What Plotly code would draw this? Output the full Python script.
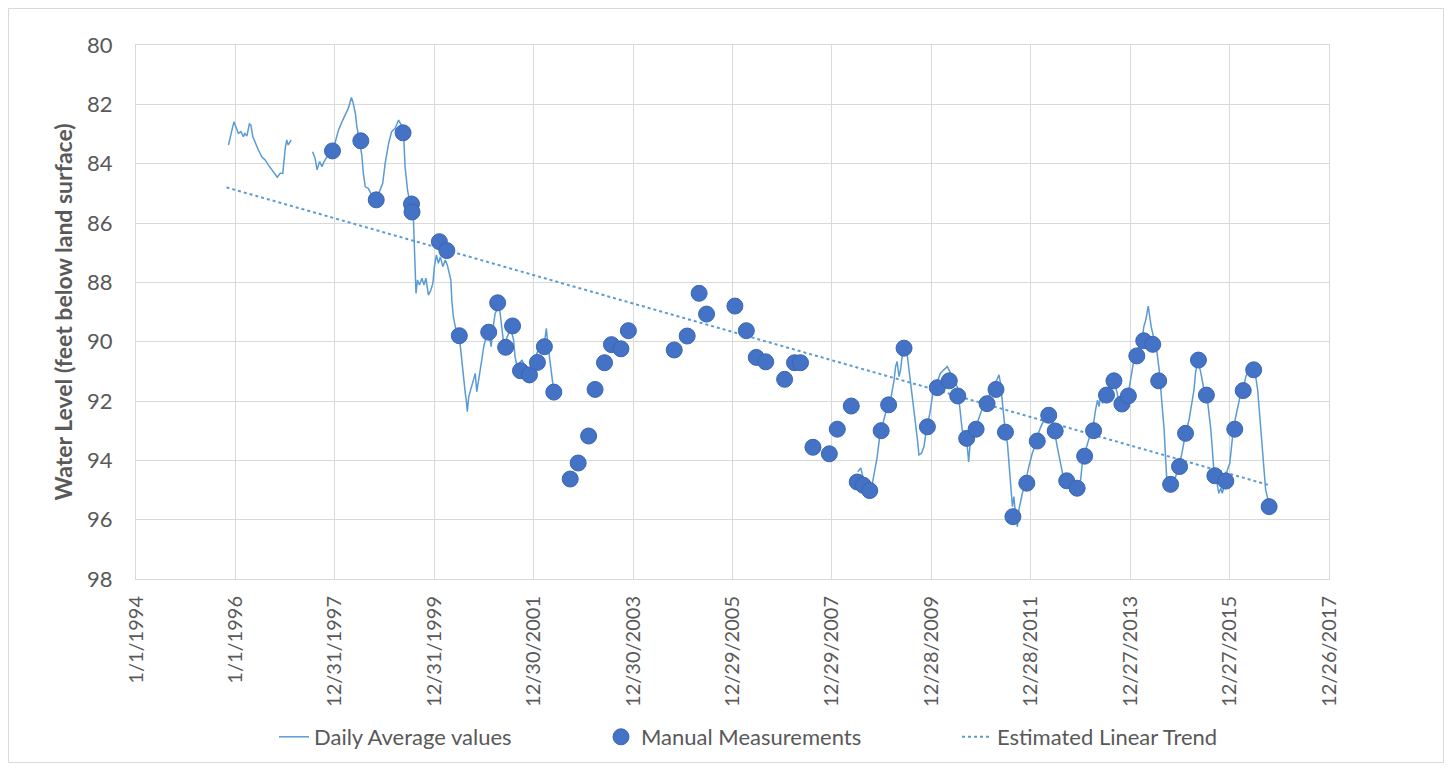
import plotly.graph_objects as go
from datetime import datetime, timedelta

# ---------------- data (decimal years, feet below land surface) ----------------
daily_a_year = [1995.86, 1995.88, 1995.93, 1995.97, 1996.01, 1996.06, 1996.11, 1996.16, 1996.19,
                1996.23, 1996.28, 1996.31, 1996.35, 1996.39, 1996.46, 1996.53, 1996.60, 1996.66,
                1996.73, 1996.80, 1996.84, 1996.90, 1996.95, 1997.00, 1997.03, 1997.06, 1997.12]
daily_a_val = [83.37, 83.20, 82.87, 82.59, 82.75, 82.98, 82.92, 83.09, 82.98,
               83.07, 82.66, 82.70, 83.09, 83.26, 83.54, 83.77, 83.88, 84.04,
               84.21, 84.38, 84.46, 84.32, 84.32, 83.48, 83.20, 83.37, 83.20]

daily_b_year = [1997.55, 1997.60, 1997.64, 1997.69, 1997.74, 1997.78, 1997.84, 1997.90, 1998.00,
                1998.07, 1998.14, 1998.20, 1998.27, 1998.33, 1998.36, 1998.41, 1998.44, 1998.49,
                1998.54, 1998.57, 1998.61, 1998.67, 1998.74, 1998.83, 1998.91, 1998.96, 1999.01,
                1999.08, 1999.14, 1999.21, 1999.28, 1999.35, 1999.38, 1999.41, 1999.46, 1999.51,
                1999.57, 1999.58, 1999.59, 1999.61, 1999.63, 1999.66, 1999.70, 1999.75, 1999.79,
                1999.83, 1999.88, 1999.93, 1999.97, 2000.00, 2000.04, 2000.08, 2000.12, 2000.17,
                2000.22, 2000.26, 2000.30, 2000.33, 2000.35, 2000.38, 2000.42, 2000.46, 2000.50,
                2000.55, 2000.58, 2000.62, 2000.64, 2000.66, 2000.69, 2000.73, 2000.77, 2000.82,
                2000.85, 2000.91, 2000.95, 2000.99, 2001.04, 2001.09, 2001.14, 2001.18, 2001.22,
                2001.26, 2001.29, 2001.32, 2001.36, 2001.39, 2001.44, 2001.49, 2001.54, 2001.59,
                2001.62, 2001.66, 2001.71, 2001.76, 2001.81, 2001.86, 2001.91, 2001.96, 2002.01,
                2002.06, 2002.11, 2002.16, 2002.21, 2002.25, 2002.27, 2002.31, 2002.36, 2002.40]
daily_b_val = [83.60, 83.82, 84.21, 83.93, 84.10, 83.93, 83.77, 83.65, 83.31,
               82.87, 82.59, 82.36, 82.13, 81.77, 81.91, 82.30, 82.75, 83.20,
               83.71, 84.32, 84.78, 84.83, 85.06, 85.22, 84.89, 84.66, 83.99,
               83.31, 82.92, 82.81, 82.53, 82.75, 82.98, 84.10, 84.89, 85.34,
               85.45, 85.90, 86.91, 87.70, 88.37, 87.92, 88.09, 87.86, 88.09,
               87.86, 88.43, 88.26, 88.03, 87.47, 87.08, 87.36, 87.14, 87.47,
               87.25, 87.42, 87.75, 87.92, 88.60, 89.16, 89.50, 89.72, 89.83,
               90.62, 91.29, 91.74, 91.97, 92.36, 91.85, 91.63, 91.35, 91.07,
               91.69, 90.95, 90.62, 90.17, 89.83, 89.66, 90.17, 89.50, 89.04,
               88.93, 88.82, 89.04, 89.72, 90.05, 89.94, 89.72, 89.61, 89.94,
               90.51, 90.84, 90.73, 90.62, 90.84, 90.95, 91.40, 90.95, 90.62,
               90.39, 90.17, 89.94, 90.05, 89.55, 89.94, 90.51, 91.18, 91.69]

daily_c_year = [2008.51, 2008.57, 2008.61, 2008.67, 2008.75, 2008.79, 2008.83, 2008.90, 2008.95,
                2009.03, 2009.10, 2009.17, 2009.24, 2009.27, 2009.30, 2009.34, 2009.37, 2009.40,
                2009.44, 2009.50, 2009.56, 2009.61, 2009.65, 2009.71, 2009.74, 2009.79, 2009.84,
                2009.89, 2009.96, 2010.01, 2010.04, 2010.11, 2010.17, 2010.24, 2010.31, 2010.38,
                2010.44, 2010.51, 2010.56, 2010.61, 2010.66, 2010.70, 2010.74, 2010.78, 2010.84,
                2010.91, 2010.98, 2011.05, 2011.11, 2011.18, 2011.25, 2011.32, 2011.35, 2011.38,
                2011.44, 2011.48, 2011.52, 2011.55, 2011.58, 2011.62, 2011.65, 2011.68, 2011.72,
                2011.75, 2011.82, 2011.88, 2011.95, 2012.02, 2012.09, 2012.13, 2012.19, 2012.25,
                2012.32, 2012.39, 2012.45, 2012.52, 2012.59, 2012.64, 2012.71, 2012.79, 2012.86,
                2012.92, 2012.99, 2013.03, 2013.07, 2013.13, 2013.19, 2013.25, 2013.29, 2013.33,
                2013.36, 2013.39, 2013.43, 2013.49, 2013.56, 2013.65, 2013.72, 2013.76, 2013.83,
                2013.90, 2013.96, 2014.01, 2014.06, 2014.12, 2014.16, 2014.23, 2014.26, 2014.30,
                2014.35, 2014.39, 2014.41, 2014.47, 2014.52, 2014.57, 2014.60, 2014.63, 2014.67,
                2014.69, 2014.72, 2014.77, 2014.84, 2014.90, 2014.97, 2015.04, 2015.10, 2015.17,
                2015.22, 2015.27, 2015.30, 2015.35, 2015.41, 2015.46, 2015.53, 2015.57, 2015.61,
                2015.64, 2015.67, 2015.71, 2015.74, 2015.77, 2015.81, 2015.84, 2015.89, 2015.94,
                2015.99, 2016.02, 2016.06, 2016.11, 2016.16, 2016.21, 2016.26, 2016.31, 2016.36,
                2016.41, 2016.47, 2016.51, 2016.55, 2016.58, 2016.61, 2016.65, 2016.68, 2016.71,
                2016.76, 2016.80]
daily_c_val = [94.39, 94.26, 94.53, 94.77, 95.06, 94.90, 94.55, 93.88, 93.20,
               92.64, 92.19, 91.97, 91.29, 90.84, 90.67, 91.18, 90.95, 90.51,
               90.28, 90.39, 91.18, 91.97, 92.53, 93.31, 93.82, 93.76, 93.54,
               92.98, 92.41, 91.85, 91.52, 91.35, 91.07, 90.95, 90.84, 91.07,
               91.29, 91.52, 92.19, 92.98, 93.20, 93.31, 94.05, 93.20, 92.98,
               92.75, 92.41, 92.08, 91.97, 91.74, 91.52, 91.24, 91.12, 91.40,
               92.41, 93.09, 93.43, 94.10, 94.89, 95.56, 95.22, 95.79, 96.24,
               95.67, 95.11, 94.77, 94.21, 93.76, 93.43, 93.15, 92.87, 92.64,
               92.41, 92.53, 92.87, 93.54, 94.21, 94.55, 94.66, 94.77, 94.89,
               94.94, 94.66, 93.99, 93.76, 93.43, 93.09, 92.75, 92.30, 91.97,
               92.19, 91.85, 92.08, 91.80, 91.63, 91.29, 91.69, 92.08, 92.08,
               91.91, 91.63, 91.07, 90.62, 90.39, 90.17, 89.89, 89.50, 89.27,
               88.80, 89.27, 89.50, 89.94, 90.28, 90.95, 91.52, 92.19, 92.98,
               93.65, 94.55, 94.89, 94.77, 94.55, 94.21, 93.65, 93.09, 92.64,
               92.19, 91.63, 91.07, 90.62, 91.07, 91.52, 91.80, 92.30, 92.98,
               93.65, 94.33, 94.55, 94.89, 95.11, 94.94, 95.11, 94.77, 94.33,
               94.10, 93.54, 92.98, 92.53, 92.08, 91.74, 91.63, 91.18, 91.01,
               90.90, 90.95, 91.18, 91.63, 92.30, 93.09, 93.88, 94.55, 95.00,
               95.34, 95.56]

manual_year = [1997.95, 1998.52, 1998.83, 1999.37, 1999.54, 1999.55, 2000.10, 2000.25, 2000.50,
               2001.09, 2001.27, 2001.43, 2001.57, 2001.73, 2001.91, 2002.07, 2002.21, 2002.40,
               2002.73, 2002.89, 2003.10, 2003.23, 2003.42, 2003.56, 2003.75, 2003.90, 2004.82,
               2005.08, 2005.32, 2005.47, 2006.04, 2006.27, 2006.47, 2006.66, 2007.04, 2007.24,
               2007.36, 2007.61, 2007.94, 2008.10, 2008.38, 2008.50, 2008.62, 2008.75, 2008.98,
               2009.13, 2009.44, 2009.91, 2010.11, 2010.35, 2010.52, 2010.70, 2010.89, 2011.11,
               2011.29, 2011.48, 2011.63, 2011.91, 2012.12, 2012.35, 2012.48, 2012.71, 2012.92,
               2013.07, 2013.25, 2013.51, 2013.66, 2013.82, 2013.95, 2014.12, 2014.26, 2014.44,
               2014.56, 2014.80, 2014.98, 2015.10, 2015.36, 2015.52, 2015.69, 2015.91, 2016.09,
               2016.26, 2016.47, 2016.78]
manual_val = [83.57, 83.23, 85.22, 82.96, 85.36, 85.63, 86.63, 86.93, 89.80,
              89.68, 88.69, 90.19, 89.47, 90.98, 91.12, 90.70, 90.17, 91.70,
              94.63, 94.09, 93.18, 91.61, 90.71, 90.10, 90.24, 89.63, 90.28,
              89.81, 88.37, 89.07, 88.80, 89.63, 90.53, 90.68, 91.27, 90.71,
              90.71, 93.56, 93.78, 92.95, 92.17, 94.73, 94.84, 95.02, 93.00,
              92.13, 90.22, 92.87, 91.55, 91.32, 91.83, 93.26, 92.95, 92.09,
              91.61, 93.05, 95.90, 94.77, 93.35, 92.48, 93.01, 94.69, 94.94,
              93.86, 93.00, 91.80, 91.32, 92.10, 91.83, 90.48, 89.97, 90.09,
              91.32, 94.81, 94.21, 93.09, 90.62, 91.80, 94.52, 94.70, 92.95,
              91.65, 90.95, 95.56]

trend_year = [1995.82, 2016.77]
trend_val = [84.80, 94.83]

tick_dates = ["1994-01-01", "1996-01-01", "1997-12-31", "1999-12-31", "2001-12-30", "2003-12-30",
              "2005-12-29", "2007-12-29", "2009-12-28", "2011-12-28", "2013-12-27", "2015-12-27",
              "2017-12-26"]
tick_labels = ["1/1/1994", "1/1/1996", "12/31/1997", "12/31/1999", "12/30/2001", "12/30/2003",
               "12/29/2005", "12/29/2007", "12/28/2009", "12/28/2011", "12/27/2013", "12/27/2015",
               "12/26/2017"]
y_ticks = [80, 82, 84, 86, 88, 90, 92, 94, 96, 98]


def to_date(y):
    yr = int(y)
    start = datetime(yr, 1, 1)
    n = (datetime(yr + 1, 1, 1) - start).days
    return start + timedelta(days=(y - yr) * n)


daily_x = ([to_date(v) for v in daily_a_year] + [None] +
           [to_date(v) for v in daily_b_year] + [None] +
           [to_date(v) for v in daily_c_year])
daily_y = daily_a_val + [None] + daily_b_val + [None] + daily_c_val

FONT = "Lato"
GREY = "#595959"
GRID = "#D9D9D9"

fig = go.Figure()
fig.add_trace(go.Scatter(
    x=daily_x, y=daily_y, mode="lines", name="Daily Average values",
    line=dict(color="#5B9BD5", width=1.5), connectgaps=False, legendrank=1,
    legendwidth=282))
fig.add_trace(go.Scatter(
    x=[to_date(v) for v in trend_year], y=trend_val, mode="lines",
    name="Estimated Linear Trend", line=dict(color="#5B9BD5", width=2, dash="dot"),
    legendrank=3))
fig.add_trace(go.Scatter(
    x=[to_date(v) for v in manual_year], y=manual_val, mode="markers",
    name="Manual Measurements",
    marker=dict(color="#4472C4", size=16, line=dict(color="#3B66B5", width=1)),
    legendrank=2, legendwidth=311))

W, H = 1436, 755
ML, MR, MT, MB = 128, 115, 37, 184
pw = W - ML - MR
ph = H - MT - MB

fig.update_layout(
    template="none",
    width=W, height=H,
    margin=dict(l=ML, r=MR, t=MT, b=MB, autoexpand=False),
    paper_bgcolor="white", plot_bgcolor="white",
    font=dict(family=FONT, color=GREY),
    showlegend=True,
    legend=dict(orientation="h", x=(266 - ML) / pw, xanchor="left",
                y=(ph + MT - 729) / ph, yanchor="middle",
                font=dict(size=22, color=GREY, family=FONT),
                bgcolor="rgba(0,0,0,0)", traceorder="normal"),
    shapes=[dict(type="rect", xref="paper", yref="paper",
                 x0=(-ML + 0.5) / pw, x1=(pw + MR - 0.5) / pw,
                 y0=(-MB + 0.5) / ph, y1=(ph + MT - 0.5) / ph,
                 line=dict(color=GRID, width=1), fillcolor="rgba(0,0,0,0)",
                 layer="below")],
)

fig.update_xaxes(
    type="date", range=[tick_dates[0], tick_dates[-1]],
    tickmode="array", tickvals=tick_dates, ticktext=tick_labels,
    tickangle=-90, tickfont=dict(size=20, color=GREY, family=FONT),
    showgrid=True, gridcolor=GRID, gridwidth=1,
    showline=True, linecolor=GRID, linewidth=1, mirror=True,
    zeroline=False, ticks="", ticklabelstandoff=8, automargin=False,
)
fig.update_yaxes(
    range=[98, 80], tickmode="array", tickvals=y_ticks,
    tickfont=dict(size=22, color=GREY, family=FONT),
    showgrid=True, gridcolor=GRID, gridwidth=1,
    showline=True, linecolor=GRID, linewidth=1, mirror=True,
    zeroline=False, ticks="", ticklabelstandoff=18, automargin=False,
    title=dict(text="Water Level (feet below land surface)",
               font=dict(size=23, color=GREY, family=FONT, weight="bold"),
               standoff=8),
)

fig.write_html("out.html")
